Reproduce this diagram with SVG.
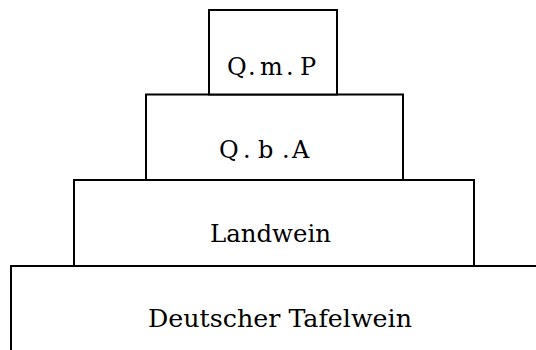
<svg xmlns="http://www.w3.org/2000/svg" width="536" height="350" viewBox="0 0 536 350">
<style>
.box{fill:#fff;stroke:#000;stroke-width:2}
.lbl{font-family:"DejaVu Serif","Liberation Serif",serif;font-size:24px;fill:#000;text-anchor:middle}
.st{text-anchor:start}
</style>
<rect width="536" height="350" fill="#fff"/>
<g id="tafelwein">
<rect class="box" x="11" y="266" width="540" height="100"/>
<text class="lbl" x="280" y="327" textLength="264" lengthAdjust="spacingAndGlyphs">Deutscher Tafelwein</text>
</g>
<g id="landwein">
<rect class="box" x="74" y="180" width="400" height="86"/>
<text class="lbl" x="270.5" y="242" textLength="121" lengthAdjust="spacingAndGlyphs">Landwein</text>
</g>
<g id="qba">
<rect class="box" x="146" y="94.5" width="257" height="85.5"/>
<text class="lbl st" x="219 243 258 282 292" y="158">Q.b.A</text>
</g>
<g id="qmp">
<rect class="box" x="209" y="10" width="128" height="84.5"/>
<text class="lbl st" x="227 248 260 286 300" y="75">Q.m.P</text>
</g>
<g id="connectors"></g>
</svg>
